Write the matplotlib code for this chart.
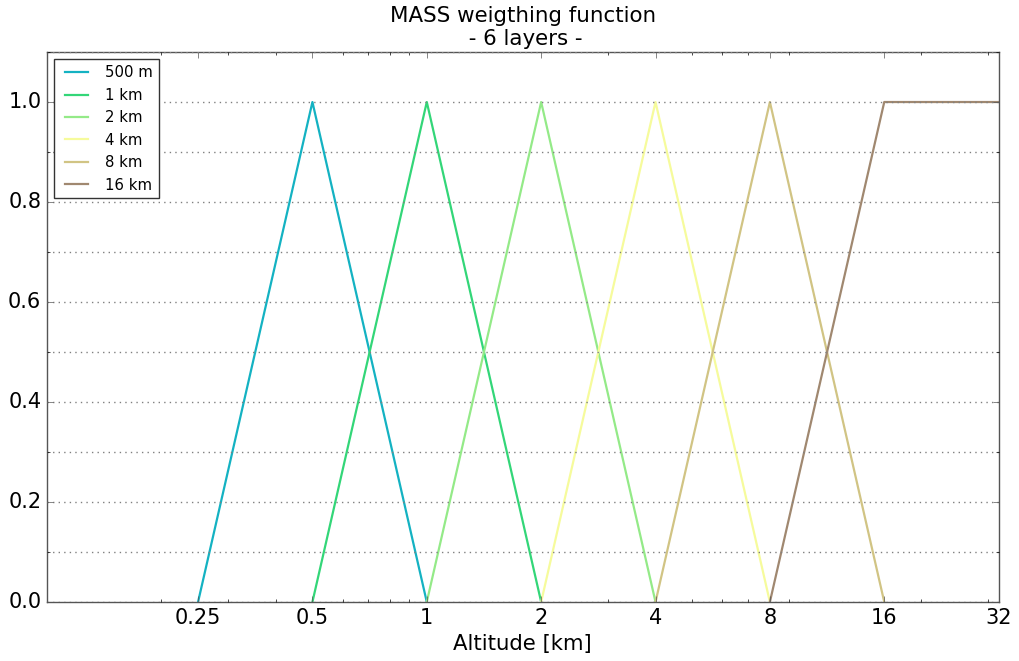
import numpy as np
import matplotlib
matplotlib.use('Agg')
import matplotlib.pyplot as plt
from matplotlib.ticker import FixedLocator, FixedFormatter, MultipleLocator, LogLocator

plt.style.use('classic')

# layer peaks [km] and labels
labels = ['500 m', '1 km', '2 km', '4 km', '8 km', '16 km']
peaks = [0.5, 1, 2, 4, 8, 16]
lows = [0.25, 0.5, 1, 2, 4, 8]
highs = [1, 2, 4, 8, 16, 32]
highs_val = [0, 0, 0, 0, 0, 1]  # last layer stays at 1 above its peak
colors = ['#14b2c2', '#33d678', '#94ea88', '#f6fb9c', '#d1c484', '#a08870']

xticks = [0.25, 0.5, 1, 2, 4, 8, 16, 32]
xticklabels = ['0.25', '0.5', '1', '2', '4', '8', '16', '32']

fig = plt.figure(figsize=(10.19, 6.61), dpi=100, facecolor='white')
ax = fig.add_axes([0.046, 0.0893, 0.934, 0.832])

for lo, pk, hi, hv, lab, c in zip(lows, peaks, highs, highs_val, labels, colors):
    ax.plot([lo, pk, hi], [0, 1, hv], color=c, lw=1.6, label=lab)

ax.set_xscale('log', base=2)
ax.set_xlim(0.1, 32)
ax.set_ylim(0, 1.1)
ax.xaxis.set_major_locator(FixedLocator(xticks))
ax.xaxis.set_major_formatter(FixedFormatter(xticklabels))
ax.xaxis.set_minor_locator(LogLocator(base=10, subs=np.arange(2, 10)))
ax.xaxis.set_minor_formatter(plt.NullFormatter())
ax.yaxis.set_major_locator(MultipleLocator(0.2))
ax.yaxis.set_minor_locator(MultipleLocator(0.1))
ax.grid(True, which='both', axis='y', color='gray', linestyle=':', lw=1)
ax.grid(False, axis='x', which='both')

for s in ax.spines.values():
    s.set_color('#555555')
ax.tick_params(labelsize=15, colors='#555555', labelcolor='black')

ax.set_xlabel('Altitude [km]', fontsize=15.3, labelpad=5)
ax.set_title('MASS weigthing function\n - 6 layers -', fontsize=15.4)
leg = ax.legend(loc='upper left', fontsize=10.7, handlelength=2.2)
leg.get_frame().set_edgecolor('#333333')

fig.savefig('out.png', dpi=100, facecolor='white')
